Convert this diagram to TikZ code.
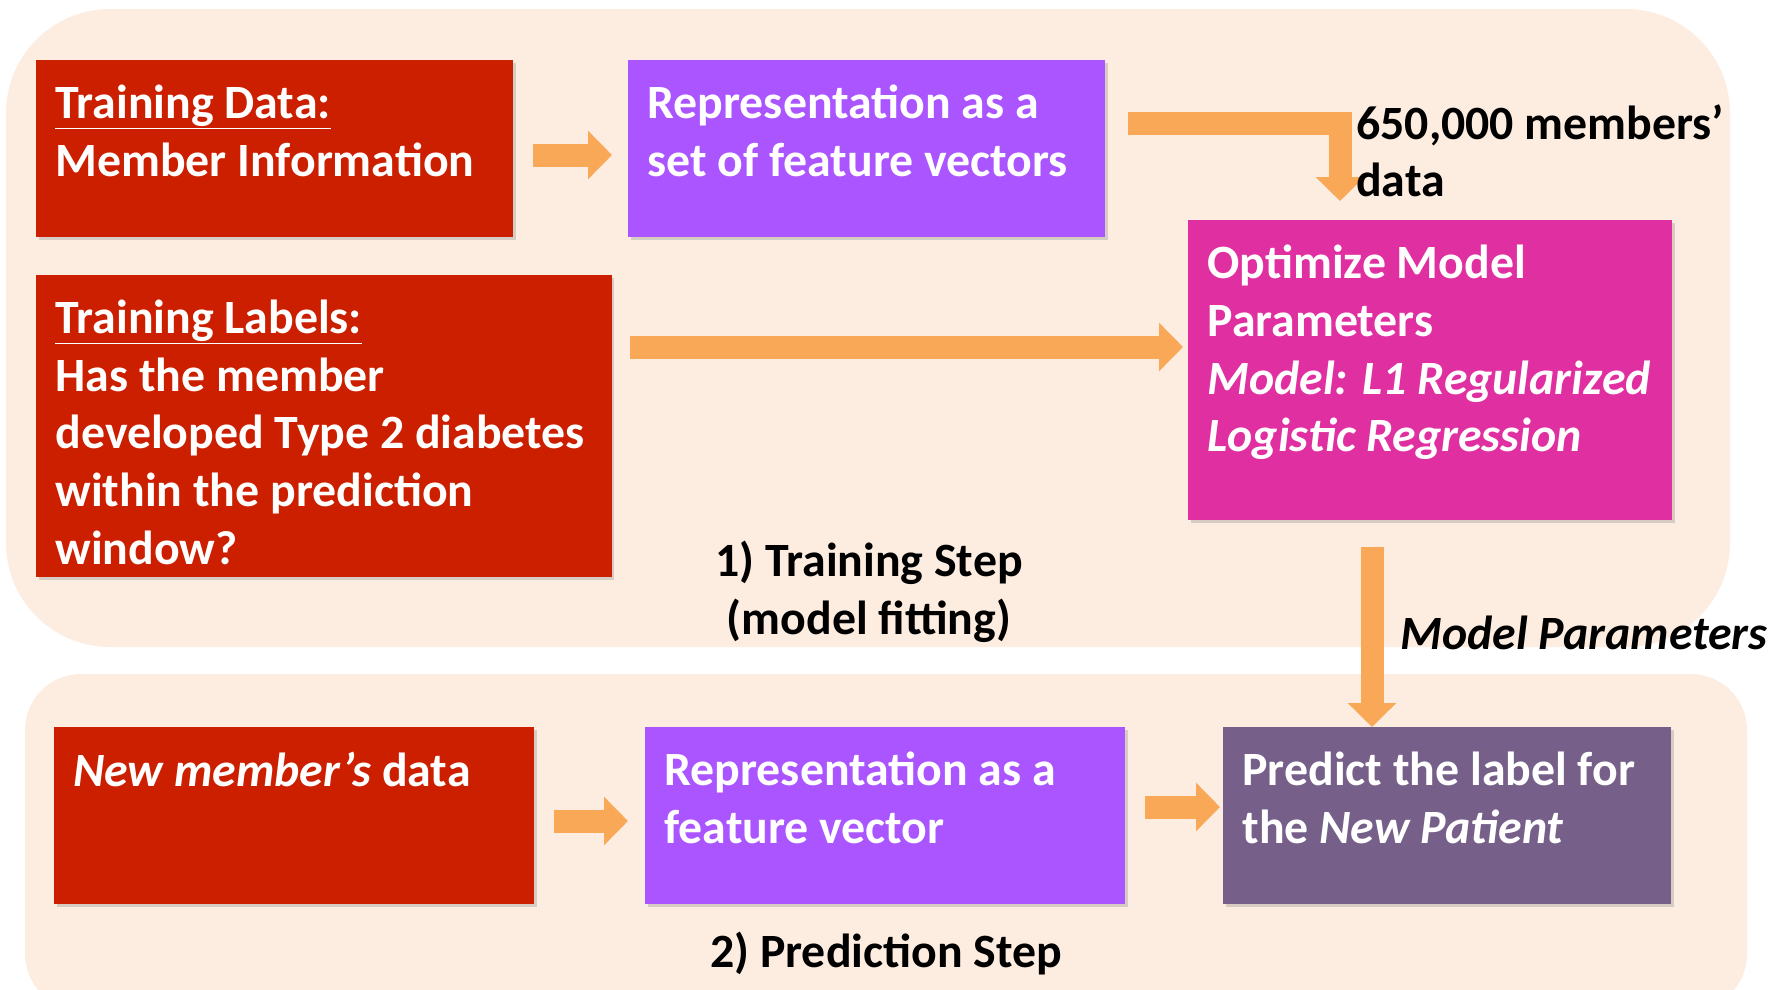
\documentclass[tikz,border=0pt]{standalone}
\usepackage{fontspec}
\setmainfont{Carlito}
\usetikzlibrary{arrows.meta,shadows}

\definecolor{panelbg}{HTML}{FDEDE1}
\definecolor{datared}{HTML}{CC1F00}
\definecolor{featpurple}{HTML}{AA55FF}
\definecolor{optmagenta}{HTML}{E02FA0}
\definecolor{predgray}{HTML}{76608A}
\definecolor{arroworange}{HTML}{F9A857}

\newcommand{\boxtxt}[3]{\parbox[c][#2][t]{#1}{#3}}

\tikzset{
  panel/.style={fill=panelbg},
  box/.style={anchor=north west, inner xsep=0.48cm, inner ysep=0.62cm, text=white,
    font=\fontsize{34}{41}\selectfont\bfseries,
    drop shadow={shadow xshift=0.07cm, shadow yshift=-0.07cm, opacity=0.3}},
  arr/.style={draw=arroworange, line width=0.575cm, line join=miter,
    -{Triangle[width=1.18cm,length=0.6cm]}},
  caption/.style={font=\fontsize{34}{41}\selectfont\bfseries, align=center, inner sep=0pt}
}

\begin{document}
\begin{tikzpicture}[x=0.025cm,y=-0.025cm]
\useasboundingbox (0,0) rectangle (1788,989);
\clip (0,0) rectangle (1788,989);

% background panels
\fill[panel, rounded corners=2.6cm] (6,9) rectangle (1730,647);
\fill[panel, rounded corners=1.4cm] (25,674) rectangle (1747,1010);

% training step
\node[box, fill=datared] (td) at (36,60)
  {\boxtxt{10.96cm}{3.18cm}{\underline{Training Data:}\\ Member Information}};
\node[box, fill=featpurple] (rep1) at (628,60)
  {\boxtxt{10.96cm}{3.18cm}{Representation as a\\ set of feature vectors}};
\node[box, fill=datared] (tl) at (36,275)
  {\boxtxt{13.42cm}{6.31cm}{\underline{Training Labels:}\\ Has the member\\ developed Type 2 diabetes\\ within the prediction\\ window?}};
\node[box, fill=optmagenta] (opt) at (1188,220)
  {\boxtxt{11.14cm}{6.26cm}{Optimize Model\\ Parameters\\ \textit{Model: L1 Regularized\\ Logistic Regression}}};

% prediction step
\node[box, fill=datared] (nm) at (54,727)
  {\boxtxt{11.04cm}{3.18cm}{\textit{New member’s} data}};
\node[box, fill=featpurple] (rep2) at (645,727)
  {\boxtxt{11.04cm}{3.18cm}{Representation as a\\ feature vector}};
\node[box, fill=predgray] (pred) at (1223,727)
  {\boxtxt{10.24cm}{3.18cm}{Predict the label for\\ the \textit{New Patient}}};

% arrows
\draw[arr] ([shift={(20,95)}]td.north east) -- ([shift={(-16,95)}]rep1.north west);
\draw[arr] ([shift={(18,72)}]tl.north east) -- ([shift={(-5,127)}]opt.north west);
\draw[arr] ([shift={(22,63)}]rep1.north east) -| ([shift={(152,-19)}]opt.north west);
\draw[arr] ([shift={(184,26)}]opt.south west) coordinate (mp) -- (mp |- pred.north);
\draw[arr] ([shift={(19,94)}]nm.north east) -- ([shift={(-17,94)}]rep2.north west);
\draw[arr] ([shift={(19,80)}]rep2.north east) -- ([shift={(-3,80)}]pred.north west);

% labels
\node[caption, anchor=north west, align=left] (count) at (1356,104) {650,000 members’\\ data};
\node[caption] (trainstep) at (869,592) {1) Training Step\\ (model fitting)};
\node[caption, anchor=west] (params) at (1400,633) {\itshape Model Parameters};
\node[caption] (predstep) at (886,953) {2) Prediction Step};
\end{tikzpicture}
\end{document}
